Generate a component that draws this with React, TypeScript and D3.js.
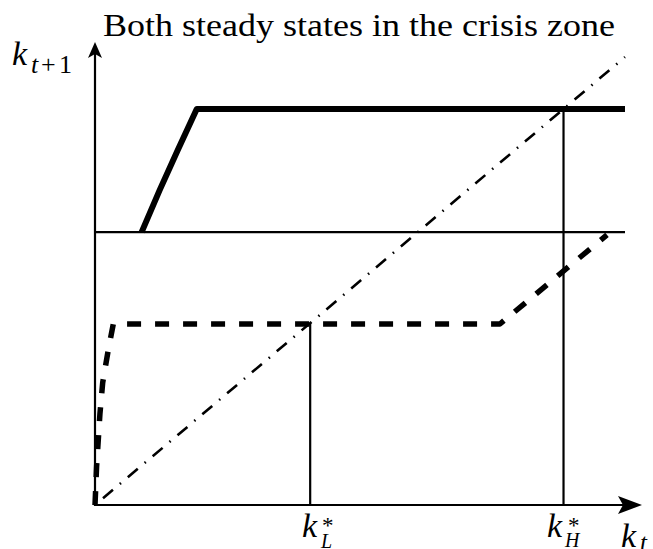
import React from "react";
import * as d3 from "d3";

// Canvas
const W = 653;
const H = 549;

// Title
const title = "Both steady states in the crisis zone";

// 45-degree line k_{t+1} = k_t
const diagK = [0, 1];
const diagV = [0, 1];

// High-productivity law of motion (solid)
const highK = [0.088, 0.122, 0.156, 0.192, 1.0];
const highV = [0.609, 0.703, 0.792, 0.884, 0.884];

// Low-productivity law of motion (dashed)
const lowK = [0, 0.003, 0.0094, 0.0145, 0.025, 0.0345, 0.764, 0.966];
const lowV = [0, 0.086, 0.205, 0.273, 0.346, 0.404, 0.404, 0.603];

// Crisis threshold (thin horizontal line)
const threshold = 0.609;

// Steady states
const kL = 0.406;
const kH = 0.884;

const serif = "'Liberation Serif', 'Times New Roman', Times, serif";

const roman = (size: number): React.CSSProperties => ({
  fontFamily: serif,
  fontSize: `${size}px`,
  fontStyle: "normal",
});
const italic = (size: number): React.CSSProperties => ({
  fontFamily: serif,
  fontSize: `${size}px`,
  fontStyle: "italic",
});

export default function App() {
  const x = d3.scaleLinear().domain([0, 1]).range([95, 625]);
  const y = d3.scaleLinear().domain([0, 1]).range([505, 57]);

  const line = d3
    .line<[number, number]>()
    .x((d) => x(d[0]))
    .y((d) => y(d[1]));

  const diag = line(diagK.map((k, i) => [k, diagV[i]] as [number, number]));
  const high = line(highK.map((k, i) => [k, highV[i]] as [number, number]));
  const low = line(lowK.map((k, i) => [k, lowV[i]] as [number, number]));

  const x0 = x(0);
  const y0 = y(0);
  const xEnd = x(1);

  // axis arrow tips
  const xTip = 642;
  const yTip = 42;

  return (
    <svg
      width={W}
      height={H}
      style={{ position: "absolute", left: 0, top: 0, background: "#fff" }}
    >
      <rect width={W} height={H} fill="#fff" />

      {/* title */}
      <text
        x={103}
        y={36}
        style={roman(31)}
        textLength={512}
        lengthAdjust="spacingAndGlyphs"
        fill="#000"
      >
        {title}
      </text>

      {/* diagonal */}
      <path
        d={diag ?? ""}
        fill="none"
        stroke="#000"
        strokeWidth={2.6}
        strokeDasharray="13 9 1.5 9"
        strokeDashoffset={22}
      />

      {/* crisis threshold */}
      <line
        x1={x0}
        x2={xEnd}
        y1={y(threshold)}
        y2={y(threshold)}
        stroke="#000"
        strokeWidth={2.4}
      />

      {/* steady state markers */}
      <line x1={x(kL)} x2={x(kL)} y1={y0} y2={y(kL)} stroke="#000" strokeWidth={2.2} />
      <line x1={x(kH)} x2={x(kH)} y1={y0} y2={y(kH)} stroke="#000" strokeWidth={2.2} />

      {/* high branch */}
      <path
        d={high ?? ""}
        fill="none"
        stroke="#000"
        strokeWidth={6}
        strokeLinejoin="round"
      />

      {/* low branch */}
      <path
        d={low ?? ""}
        fill="none"
        stroke="#000"
        strokeWidth={5.5}
        strokeDasharray="14 14"
        strokeLinejoin="round"
      />

      {/* axes */}
      <line x1={x0} x2={xTip - 10} y1={y0} y2={y0} stroke="#000" strokeWidth={2.2} />
      <line x1={x0} x2={x0} y1={y0 + 1} y2={yTip + 8} stroke="#000" strokeWidth={2.2} />
      <path
        d={`M${xTip},${y0} L${xTip - 24},${y0 - 9} L${xTip - 19},${y0} L${xTip - 24},${y0 + 9} Z`}
        fill="#000"
      />
      <path
        d={`M${x0},${yTip} L${x0 - 7},${yTip + 16} L${x0},${yTip + 12} L${x0 + 7},${yTip + 16} Z`}
        fill="#000"
      />

      {/* y label k_{t+1} */}
      <text x={12} y={65} style={italic(34)} fill="#000">k</text>
      <text x={31} y={73} style={italic(26)} fill="#000">t</text>
      <text x={41} y={73} style={roman(26)} fill="#000">+</text>
      <text x={59} y={73} style={roman(26)} fill="#000">1</text>

      {/* x label k_t */}
      <text x={621} y={547} style={italic(34)} fill="#000">k</text>
      <text x={640} y={551} style={italic(25)} fill="#000">t</text>

      {/* k_L^* */}
      <text x={302} y={537} style={italic(34)} fill="#000">k</text>
      <text x={322} y={533} style={roman(23)} fill="#000">*</text>
      <text x={321} y={548} style={italic(20)} fill="#000">L</text>

      {/* k_H^* */}
      <text x={547} y={537} style={italic(34)} fill="#000">k</text>
      <text x={568} y={533} style={roman(23)} fill="#000">*</text>
      <text x={565} y={547} style={italic(20)} fill="#000">H</text>
    </svg>
  );
}
